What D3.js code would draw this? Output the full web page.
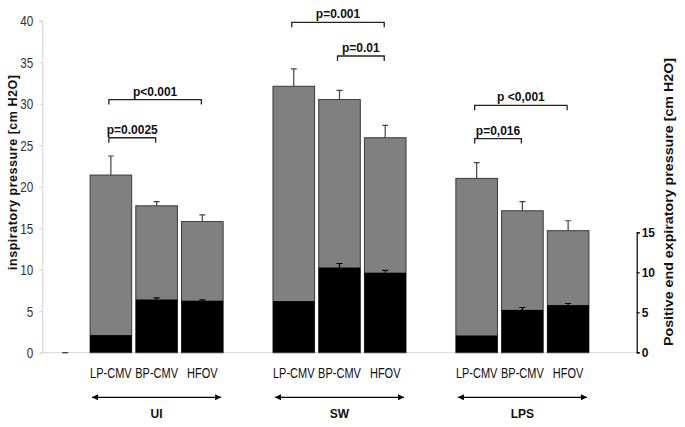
<!DOCTYPE html>
<html><head><meta charset="utf-8">
<script src="https://cdn.jsdelivr.net/npm/d3@7/dist/d3.min.js"></script>
<style>
body{margin:0;background:#fff;}
svg{display:block;}
.narrow{font-family:"Liberation Sans",Arial,sans-serif;}
.bold{font-family:"Liberation Sans",Arial,sans-serif;font-weight:bold;}
</style></head>
<body>
<svg id="c" width="685" height="427"></svg>
<script>
// ---- data ----
const groups = ["UI", "SW", "LPS"];
const modes = ["LP-CMV", "BP-CMV", "HFOV"];
// inspiratory pressure (left axis), mean and mean+SD
const inspMean = [[21.4, 17.7, 15.8], [32.1, 30.5, 25.9], [21.0, 17.1, 14.7]];
const inspTop  = [[23.7, 18.2, 16.6], [34.2, 31.6, 27.4], [22.9, 18.2, 15.9]];
// PEEP (right axis), mean and mean+SD
const peepMean = [[2.15, 6.6, 6.45], [6.4, 10.6, 9.95], [2.1, 5.3, 5.9]];
const peepTop  = [[2.15, 6.8, 6.55], [6.4, 11.1, 10.25], [2.1, 5.6, 6.1]];
const leftTicks = [0, 5, 10, 15, 20, 25, 30, 35, 40];
const rightTicks = [0, 5, 10, 15];
// significance brackets: group, from bar, to bar, height (left scale), label
const sig = [
  {g: 0, a: 0, b: 2, y: 30.5, t: "p<0.001"},
  {g: 0, a: 0, b: 1, y: 25.9, t: "p=0.0025"},
  {g: 1, a: 0, b: 2, y: 39.8, t: "p=0.001"},
  {g: 1, a: 1, b: 2, y: 35.75, t: "p=0.01"},
  {g: 2, a: 0, b: 2, y: 29.8, t: "p <0,001"},
  {g: 2, a: 0, b: 1, y: 25.8, t: "p=0,016"}
];

// ---- layout ----
const svg = d3.select("#c");
const x0 = 42.3, x1 = 636.7, yBase = 352.7;
const slots = d3.range(13);
const x = d3.scaleBand().domain(slots).range([x0, x1]).paddingInner(0.09).paddingOuter(0.045);
const yL = d3.scaleLinear().domain([0, 40]).range([yBase, 20.7]);
const yR = d3.scaleLinear().domain([0, 15]).range([352.3, 232.3]);
const slotOf = (g, i) => 1 + g * 4 + i;
const cx = (g, i) => x(slotOf(g, i)) + x.bandwidth() / 2;

// left axis
const axL = svg.append("g").attr("transform", `translate(${x0},0)`)
  .call(d3.axisLeft(yL).tickValues(leftTicks).tickSize(3).tickPadding(6));
axL.select(".domain").attr("stroke", "#d0d0d0");
axL.selectAll(".tick line").attr("stroke", "#d0d0d0");
axL.selectAll(".tick text").each(function() {
  const t = d3.select(this);
  const xx = +t.attr("x");
  t.attr("x", null).attr("class", "narrow").attr("font-size", 15).attr("fill", "#333")
   .attr("transform", `translate(${xx},0) scale(0.78,1)`);
});

// baseline
svg.append("line").attr("x1", x0).attr("x2", x1).attr("y1", yBase).attr("y2", yBase)
  .attr("stroke", "#d8d8d8");

// zero bar marker in slot 0
svg.append("line").attr("x1", x(0) + x.bandwidth()/2 - 3).attr("x2", x(0) + x.bandwidth()/2 + 3)
  .attr("y1", yBase).attr("y2", yBase).attr("stroke", "#333").attr("stroke-width", 1.2);

// bars
const bars = [];
groups.forEach((g, gi) => modes.forEach((m, mi) => bars.push({gi, mi, m,
  iv: inspMean[gi][mi], it: inspTop[gi][mi], pv: peepMean[gi][mi], pt: peepTop[gi][mi]})));

const bg = svg.append("g");
bg.selectAll("rect.insp").data(bars).join("rect").attr("class", "insp")
  .attr("x", d => x(slotOf(d.gi, d.mi))).attr("width", x.bandwidth())
  .attr("y", d => yL(d.iv)).attr("height", d => yBase - yL(d.iv))
  .attr("fill", "#808080").attr("stroke", "#3a3a3a").attr("stroke-width", 1);
// insp error bars
bg.selectAll("path.ie").data(bars).join("path").attr("class", "ie")
  .attr("d", d => { const c = cx(d.gi, d.mi); return `M${c},${yL(d.iv)}V${yL(d.it)}M${c-3},${yL(d.it)}H${c+3}`; })
  .attr("stroke", "#444").attr("stroke-width", 1.2).attr("fill", "none");
// peep bars
bg.selectAll("rect.peep").data(bars).join("rect").attr("class", "peep")
  .attr("x", d => x(slotOf(d.gi, d.mi))).attr("width", x.bandwidth())
  .attr("y", d => yR(d.pv)).attr("height", d => yR(0) - yR(d.pv))
  .attr("fill", "#000");
bg.selectAll("path.pe").data(bars.filter(d => d.pt > d.pv)).join("path").attr("class", "pe")
  .attr("d", d => { const c = cx(d.gi, d.mi); return `M${c},${yR(d.pv)}V${yR(d.pt)}M${c-3},${yR(d.pt)}H${c+3}`; })
  .attr("stroke", "#000").attr("stroke-width", 1.2).attr("fill", "none");

// category labels (condensed)
svg.selectAll("text.cat").data(bars).join("text").attr("class", "narrow")
  .attr("transform", d => `translate(${cx(d.gi, d.mi)},378) scale(0.76,1)`)
  .attr("text-anchor", "middle")
  .attr("font-size", 14.5).attr("fill", "#111").text(d => d.m);

// group arrows and labels
svg.append("defs").html(`<marker id="ah" viewBox="0 0 10 10" refX="10" refY="5" markerWidth="7" markerHeight="6" orient="auto-start-reverse" markerUnits="userSpaceOnUse"><path d="M0,0L10,5L0,10z" fill="#000"/></marker>`);
groups.forEach((g, gi) => {
  const a = x(slotOf(gi, 0)) + 2, b = x(slotOf(gi, 2)) + x.bandwidth() - 2;
  svg.append("line").attr("x1", a).attr("x2", b).attr("y1", 397.3).attr("y2", 397.3)
    .attr("stroke", "#000").attr("stroke-width", 1.3)
    .attr("marker-start", "url(#ah)").attr("marker-end", "url(#ah)");
  svg.append("text").attr("class", "bold").attr("x", cx(gi, 1)).attr("y", 417.5)
    .attr("text-anchor", "middle").attr("font-size", 12).attr("fill", "#111").text(g);
});

// significance brackets
sig.forEach(s => {
  const a = cx(s.g, s.a) - 2, b = cx(s.g, s.b) - 1, y = yL(s.y);
  svg.append("path").attr("d", `M${a},${y + 5}V${y}H${b}V${y + 5}`)
    .attr("stroke", "#222").attr("stroke-width", 1.3).attr("fill", "none");
  svg.append("text").attr("class", "bold").attr("x", (a + b) / 2).attr("y", y - 4)
    .attr("text-anchor", "middle").attr("font-size", 12).attr("fill", "#111").text(s.t);
});

// right axis
const axR = svg.append("g").attr("transform", `translate(${x1},0)`)
  .call(d3.axisRight(yR).tickValues(rightTicks).tickSize(3).tickPadding(2));
axR.select(".domain").attr("stroke", "#000").attr("stroke-width", 1.2);
axR.selectAll(".tick line").attr("stroke", "#000").attr("stroke-width", 1.2);
axR.selectAll("text").attr("class", "bold").attr("font-size", 12).attr("fill", "#111");

// axis titles
svg.append("text").attr("class", "bold").attr("transform", "translate(17,172.5) rotate(-90)")
  .attr("text-anchor", "middle").attr("font-size", 12.5).attr("fill", "#111")
  .attr("textLength", 195).attr("lengthAdjust", "spacing")
  .text("inspiratory pressure [cm H2O]");
svg.append("text").attr("class", "bold").attr("transform", "translate(673,202) rotate(-90)")
  .attr("text-anchor", "middle").attr("font-size", 12).attr("fill", "#111")
  .attr("textLength", 288).attr("lengthAdjust", "spacingAndGlyphs")
  .text("Positive end expiratory pressure [cm H2O]");
</script>
</body></html>
